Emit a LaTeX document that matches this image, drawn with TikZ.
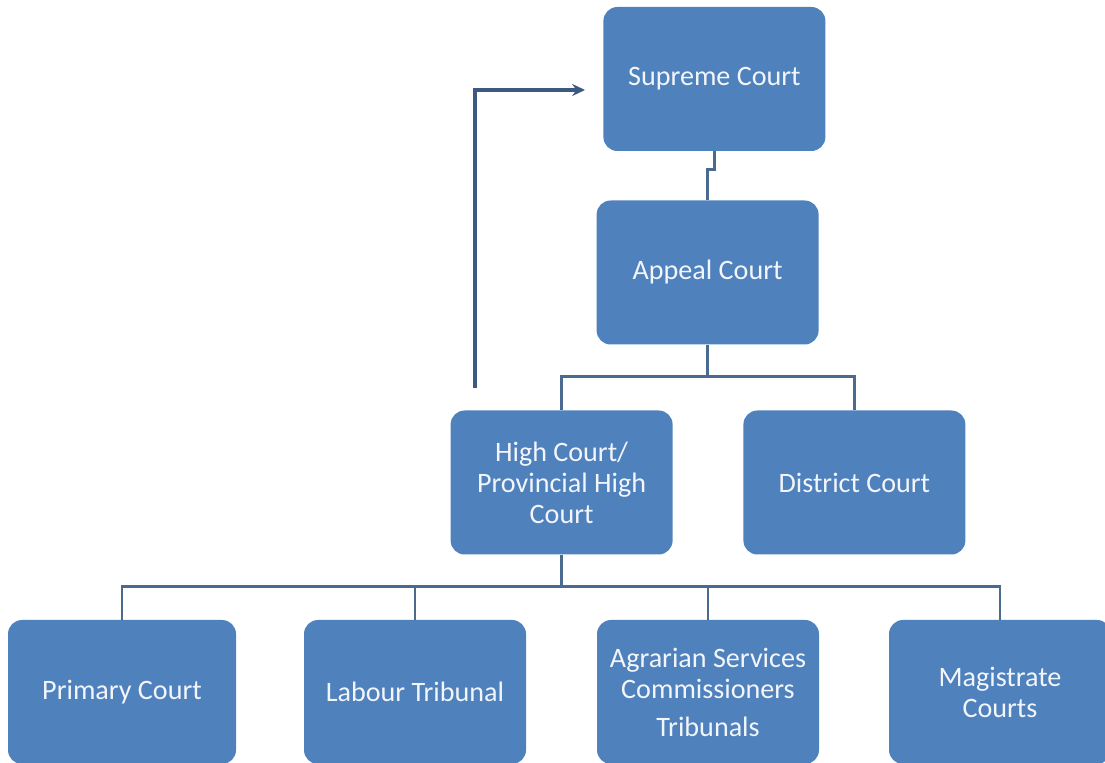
\documentclass[tikz,border=0pt]{standalone}
\usepackage{fontspec}
\setmainfont{Carlito}
\usetikzlibrary{arrows.meta}
\definecolor{boxblue}{HTML}{4F81BD}
\definecolor{linkgray}{HTML}{4A6B8F}
\definecolor{arrowblue}{HTML}{3C5A80}
\definecolor{textwhite}{HTML}{F2F5FA}
\tikzset{court/.style={fill=boxblue, rounded corners=0.35cm, minimum width=5.55cm,
    minimum height=3.6cm, text=textwhite, align=center,
    font=\fontsize{20}{22}\selectfont},
  link/.style={linkgray, line width=2.1pt},
  upArrow/.style={arrowblue, line width=3.4pt, -{Stealth[length=0.32cm,width=0.3cm]}}}

\begin{document}
\begin{tikzpicture}
      \useasboundingbox (0,0) rectangle (27.625,19.05);
      \clip (0,0) rectangle (27.625,19.05);

      % top of the chart
      \node [court] (supreme) at (17.86, 17.075) {Supreme Court};
      \node [court] (appeal) at (17.69, 12.2375) {Appeal Court};

      % middle row
      \node [court] (high) at (14.04, 6.9875) {High Court/\\Provincial High\\Court};
      \node [court] (district) at (21.36, 6.9875) {District Court};

      % bottom row
      \node [court, minimum width=5.7cm] (primary) at (3.05, 1.75) {Primary Court};
      \node [court] (labour) at (10.375, 1.75) {Labour Tribunal};
      \node [court] (agrarian) at (17.7, 1.75) {Agrarian Services\\Commissioners\\[5pt]Tribunals};
      \node [court] (magistrate) at (25.0, 1.75) {Magistrate\\Courts};

      \draw [link] (supreme.south) -- ++(0, -0.45) -| (appeal.north);

      \draw [link] (appeal.south) -- ++(0, -0.8) -| (high.north);
      \draw [link] (appeal.south) -- ++(0, -0.8) -| (district.north);

      \draw [link] (high.south) -- ++(0, -0.8) -| (primary.north);
      \draw [link] (high.south) -- ++(0, -0.8) -| (labour.north);
      \draw [link] (high.south) -- ++(0, -0.8) -| (agrarian.north);
      \draw [link] (high.south) -- ++(0, -0.8) -| (magistrate.north);

      % appeal route from the high court
      \coordinate (hcTop) at (11.875, 9.35);
      \coordinate (arrowEnd) at (14.625, 16.8);
      \draw [upArrow] (hcTop) |- (arrowEnd);
    \end{tikzpicture}
\end{document}
